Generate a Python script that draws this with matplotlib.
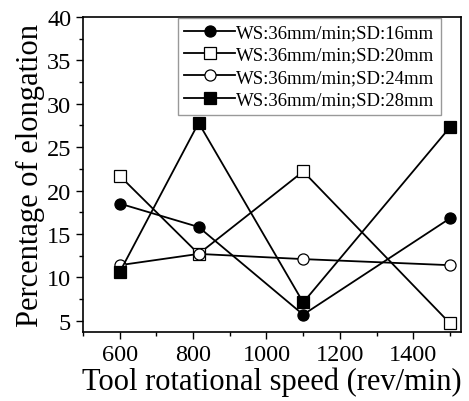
import matplotlib.pyplot as plt
from matplotlib.ticker import MultipleLocator

plt.rcParams['font.family'] = 'Liberation Serif'

speed = [600, 815, 1100, 1500]
sd16 = [18.5, 15.8, 5.7, 16.8]
sd20 = [21.7, 12.7, 22.2, 4.7]
sd24 = [11.4, 12.7, 12.1, 11.4]
sd28 = [10.6, 27.8, 7.1, 27.3]
labels = ['WS:36mm/min;SD:16mm', 'WS:36mm/min;SD:20mm',
          'WS:36mm/min;SD:24mm', 'WS:36mm/min;SD:28mm']


def main():
    fig = plt.figure(figsize=(4.69, 4.02), dpi=100)
    ax = fig.add_axes([83 / 469, 1 - 333 / 402, 378 / 469, 315 / 402])

    styles = [('o', 'black'), ('s', 'white'), ('o', 'white'), ('s', 'black')]
    for ys, lab, (m, fc) in zip([sd16, sd20, sd24, sd28], labels, styles):
        ax.plot(speed, ys, color='black', lw=1.3, marker=m, ms=8,
                mfc=fc, mec='black', mew=0.9, label=lab)

    ax.set_xlim(500, 1530)
    ax.set_ylim(3.7, 40)
    ax.xaxis.set_major_locator(MultipleLocator(200))
    ax.xaxis.set_minor_locator(MultipleLocator(100))
    ax.yaxis.set_major_locator(MultipleLocator(5))
    ax.yaxis.set_minor_locator(MultipleLocator(2.5))
    ax.tick_params(which='both', direction='out', labelsize=17.5, width=1)
    ax.tick_params(which='major', length=5)
    ax.tick_params(which='minor', length=3)
    for s in ax.spines.values():
        s.set_linewidth(1.2)

    ax.set_xlabel('Tool rotational speed (rev/min)', fontsize=22, labelpad=1)
    ax.set_ylabel('Percentage of elongation', fontsize=22, labelpad=1)

    leg = ax.legend(loc='upper left', bbox_to_anchor=(0.251, 0.997), fontsize=13.5,
                    frameon=True, fancybox=False, edgecolor='gray',
                    handlelength=2.7, handletextpad=0.05, borderpad=0.35,
                    labelspacing=0.27, borderaxespad=0.0, markerscale=1)
    leg.get_frame().set_linewidth(1)

    fig.savefig('out.png', dpi=100)


if __name__ == '__main__':
    main()
